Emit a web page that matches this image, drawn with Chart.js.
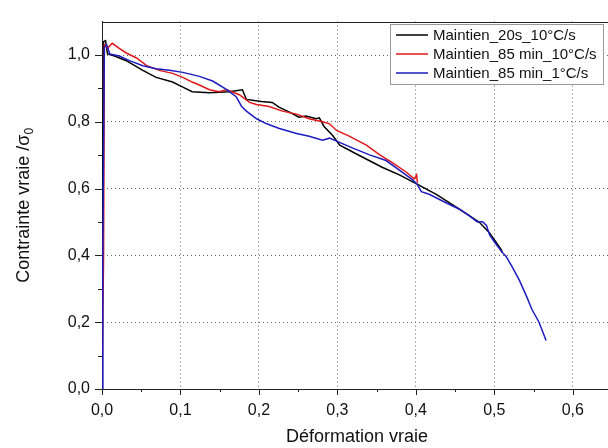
<!DOCTYPE html>
<html>
<head>
<meta charset="utf-8">
<script src="https://cdn.jsdelivr.net/npm/chart.js@4/dist/chart.umd.min.js"></script>
<style>
  html, body { margin: 0; padding: 0; background: #fff; overflow: hidden; }
  #wrap { width: 614px; height: 448px; }
</style>
</head>
<body>
<div id="wrap"><canvas id="myChart" width="614" height="448"></canvas></div>
<script>
// tension essais - contrainte normalisée vs déformation vraie
const seriesLabels = [
  "Maintien_20s_10°C/s",
  "Maintien_85 min_10°C/s",
  "Maintien_85 min_1°C/s",
];
const seriesColors = ["#000000", "#e01818", "#1c1cc0"];

const strain20s = [0, 0.0006, 0.002, 0.0045, 0.007, 0.016, 0.031, 0.052, 0.069, 0.09, 0.103, 0.115, 0.137, 0.162, 0.179, 0.184, 0.203, 0.217, 0.226, 0.239, 0.251, 0.26, 0.273, 0.277, 0.283, 0.294, 0.303, 0.328, 0.357, 0.379, 0.401, 0.426, 0.455, 0.481, 0.494, 0.509, 0.51];
const stress20s = [0, 0.40, 1.04, 1.043, 1.003, 0.997, 0.983, 0.954, 0.933, 0.919, 0.904, 0.89, 0.887, 0.89, 0.896, 0.867, 0.861, 0.858, 0.843, 0.829, 0.814, 0.817, 0.809, 0.812, 0.786, 0.759, 0.73, 0.699, 0.664, 0.641, 0.614, 0.583, 0.539, 0.499, 0.467, 0.417, 0.409];

const strain85fast = [0, 0.002, 0.003, 0.007, 0.013, 0.022, 0.031, 0.044, 0.057, 0.073, 0.09, 0.103, 0.115, 0.124, 0.137, 0.149, 0.159, 0.175, 0.188, 0.197, 0.213, 0.23, 0.248, 0.264, 0.281, 0.29, 0.299, 0.315, 0.337, 0.354, 0.37, 0.388, 0.398, 0.401, 0.402];
const stress85fast = [0, 0.40, 1.03, 1.02, 1.035, 1.02, 1.006, 0.991, 0.968, 0.954, 0.945, 0.933, 0.919, 0.91, 0.896, 0.89, 0.896, 0.881, 0.858, 0.852, 0.846, 0.832, 0.823, 0.809, 0.8, 0.794, 0.774, 0.757, 0.73, 0.701, 0.678, 0.649, 0.629, 0.641, 0.617];

const strain85slow = [0, 0.001, 0.003, 0.006, 0.01, 0.022, 0.035, 0.052, 0.069, 0.086, 0.103, 0.124, 0.141, 0.159, 0.171, 0.178, 0.184, 0.197, 0.21, 0.226, 0.248, 0.264, 0.281, 0.29, 0.299, 0.319, 0.341, 0.362, 0.379, 0.396, 0.402, 0.407, 0.417, 0.439, 0.455, 0.468, 0.478, 0.485, 0.49, 0.494, 0.5, 0.509, 0.515, 0.523, 0.532, 0.541, 0.548, 0.557, 0.566];
const stress85slow = [0, 0.40, 1.023, 1.03, 1.003, 0.997, 0.983, 0.968, 0.959, 0.954, 0.948, 0.936, 0.922, 0.896, 0.875, 0.846, 0.832, 0.809, 0.794, 0.78, 0.765, 0.757, 0.745, 0.751, 0.742, 0.722, 0.701, 0.684, 0.655, 0.626, 0.612, 0.591, 0.583, 0.557, 0.539, 0.519, 0.501, 0.501, 0.49, 0.461, 0.441, 0.412, 0.397, 0.365, 0.325, 0.278, 0.238, 0.2, 0.145];

const xTickValues = [0, 0.05, 0.1, 0.15, 0.2, 0.25, 0.3, 0.35, 0.4, 0.45, 0.5, 0.55, 0.6];
const yTickValues = [0, 0.1, 0.2, 0.3, 0.4, 0.5, 0.6, 0.7, 0.8, 0.9, 1.0];

const toPoints = (xs, ys) => xs.map((v, i) => ({ x: v, y: ys[i] }));
const isMajorX = (v) => Math.abs(v * 10 - Math.round(v * 10)) < 1e-6;
const isMajorY = (v) => Math.abs(v * 5 - Math.round(v * 5)) < 1e-6;
const fmt = (v) => v.toFixed(1).replace(".", ",");

const FONT = "'Liberation Sans', Arial, sans-serif";

// tick marks, top frame, legend and y title
const decorations = {
  id: "decorations",
  afterDraw(chart) {
    const { ctx, chartArea: a, scales: { x, y } } = chart;
    ctx.save();
    ctx.strokeStyle = "#222";
    ctx.lineWidth = 1;
    ctx.beginPath();
    xTickValues.forEach((v) => {
      const px = Math.round(x.getPixelForValue(v)) + 0.5;
      ctx.moveTo(px, a.bottom);
      ctx.lineTo(px, a.bottom + (isMajorX(v) ? 6 : 3));
    });
    yTickValues.forEach((v) => {
      const py = Math.round(y.getPixelForValue(v)) + 0.5;
      ctx.moveTo(a.left, py);
      ctx.lineTo(a.left - (isMajorY(v) ? 7 : 4), py);
    });
    ctx.moveTo(a.left, Math.round(a.top) + 0.5);
    ctx.lineTo(a.right, Math.round(a.top) + 0.5);
    ctx.stroke();

    // legend box
    const bx = 390.5, by = 24.5, bw = 213, bh = 60;
    ctx.fillStyle = "#fff";
    ctx.fillRect(bx, by, bw, bh);
    ctx.strokeStyle = "#999";
    ctx.strokeRect(bx, by, bw, bh);
    ctx.font = "15px " + FONT;
    ctx.textBaseline = "middle";
    chart.data.datasets.forEach((ds, i) => {
      const ry = 35 + i * 19;
      ctx.strokeStyle = ds.borderColor;
      ctx.lineWidth = 1.5;
      ctx.beginPath();
      ctx.moveTo(396, ry);
      ctx.lineTo(428, ry);
      ctx.stroke();
      ctx.fillStyle = "#111";
      ctx.fillText(ds.label, 433, ry + 1);
    });

    // y title with subscript
    ctx.translate(23, (a.top + a.bottom) / 2);
    ctx.rotate(-Math.PI / 2);
    const main = "Contrainte vraie /σ";
    ctx.font = "18px " + FONT;
    const w1 = ctx.measureText(main).width;
    ctx.font = "12px " + FONT;
    const w2 = ctx.measureText("0").width;
    const x0 = -(w1 + w2) / 2;
    ctx.fillStyle = "#111";
    ctx.textBaseline = "alphabetic";
    ctx.font = "18px " + FONT;
    ctx.fillText(main, x0, 6);
    ctx.font = "12px " + FONT;
    ctx.fillText("0", x0 + w1, 10);
    ctx.restore();
  },
};

const ctx = document.getElementById("myChart");

new Chart(ctx, {
  type: "line",
  data: {
    datasets: [
      { label: seriesLabels[0], data: toPoints(strain20s, stress20s), borderColor: seriesColors[0], order: 2 },
      { label: seriesLabels[1], data: toPoints(strain85fast, stress85fast), borderColor: seriesColors[1], order: 1 },
      { label: seriesLabels[2], data: toPoints(strain85slow, stress85slow), borderColor: seriesColors[2], order: 0 },
    ],
  },
  options: {
    responsive: false,
    animation: false,
    parsing: false,
    layout: { padding: { top: 9, right: 2, left: 0, bottom: 0 } },
    elements: {
      line: { borderWidth: 1.5, tension: 0, fill: false },
      point: { radius: 0 },
    },
    plugins: { legend: { display: false }, tooltip: { enabled: false } },
    scales: {
      x: {
        type: "linear",
        min: 0,
        max: 0.65,
        afterFit: (s) => { s.height = 59; },
        afterBuildTicks: (s) => { s.ticks = xTickValues.map((v) => ({ value: v })); },
        grid: {
          drawTicks: false,
          color: (c) => (c.tick && isMajorX(c.tick.value) && c.tick.value > 0 ? "#666" : "transparent"),
        },
        border: { display: true, color: "#222", width: 1, dash: [1, 3] },
        ticks: {
          padding: 12,
          color: "#111",
          font: { family: FONT, size: 16 },
          maxRotation: 0,
          autoSkip: false,
          callback: (v) => (isMajorX(v) ? fmt(v) : ""),
        },
        title: {
          display: true,
          text: "Déformation vraie",
          color: "#111",
          font: { family: FONT, size: 18 },
          padding: { top: 4, bottom: 0 },
        },
      },
      y: {
        type: "linear",
        min: 0,
        max: 1.1,
        afterFit: (s) => { s.width = 102; },
        afterBuildTicks: (s) => { s.ticks = yTickValues.map((v) => ({ value: v })); },
        grid: {
          drawTicks: false,
          color: (c) => (c.tick && isMajorY(c.tick.value) && c.tick.value > 0 ? "#666" : "transparent"),
        },
        border: { display: true, color: "#222", width: 1, dash: [1, 3] },
        ticks: {
          padding: 12,
          color: "#111",
          font: { family: FONT, size: 16 },
          autoSkip: false,
          callback: (v) => (isMajorY(v) ? fmt(v) : ""),
        },
      },
    },
  },
  plugins: [decorations],
});
</script>
</body>
</html>
